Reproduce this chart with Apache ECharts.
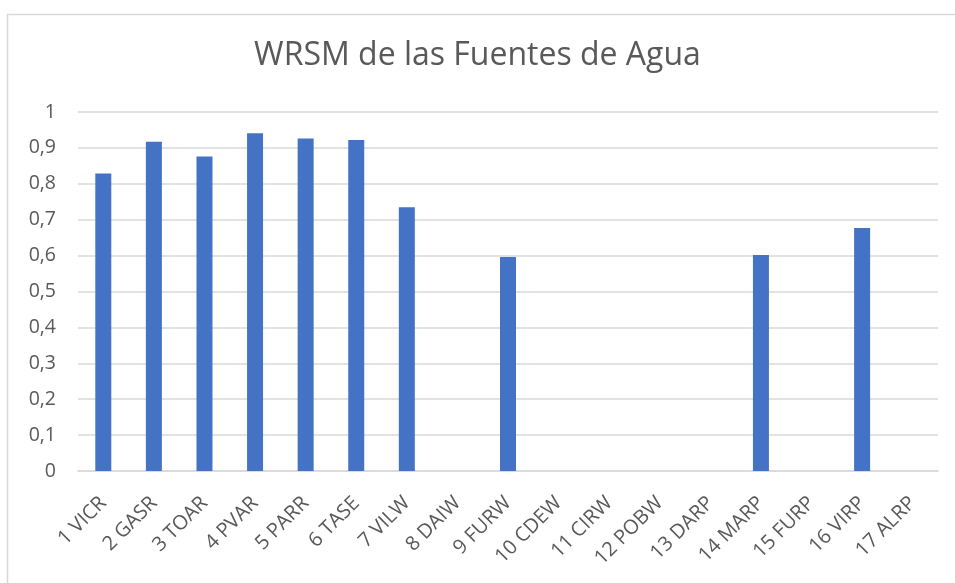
<!DOCTYPE html>
<html>
<head>
<meta charset="utf-8">
<script src="https://cdn.jsdelivr.net/npm/echarts@6/dist/echarts.min.js"></script>
<style>
  html, body { margin: 0; padding: 0; background: #ffffff; }
  #chart { width: 955px; height: 583px; }
</style>
</head>
<body>
<div id="chart"></div>
<script>
// Water source codes and their WRSM scores
const categories = [
  '1 VICR', '2 GASR', '3 TOAR', '4 PVAR', '5 PARR', '6 TASE', '7 VILW', '8 DAIW',
  '9 FURW', '10 CDEW', '11 CIRW', '12 POBW', '13 DARP', '14 MARP', '15 FURP',
  '16 VIRP', '17 ALRP'
];
const wrsmValues = [
  0.829, 0.917, 0.876, 0.941, 0.926, 0.922, 0.735, null,
  0.596, null, null, null, null, 0.602, null,
  0.677, null
];
const chartTitle = 'WRSM de las Fuentes de Agua';

const textColor = '#595959';
const fontFamily = '"Open Sans", "Noto Sans", sans-serif';

const chart = echarts.init(document.getElementById('chart'), null, { renderer: 'canvas' });

chart.setOption({
  backgroundColor: '#ffffff',
  animation: false,
  graphic: [{
    type: 'rect',
    shape: { x: 7.5, y: 14.5, width: 960, height: 600 },
    style: { fill: 'none', stroke: '#d9d9d9', lineWidth: 1.5 },
    silent: true,
    z: -1
  }],
  title: {
    text: chartTitle,
    left: 'center',
    top: 35,
    textStyle: {
      fontFamily: fontFamily,
      fontWeight: 'normal',
      fontSize: 32,
      color: textColor
    }
  },
  grid: {
    left: 78,
    right: 17,
    top: 112,
    bottom: 112,
    containLabel: false
  },
  xAxis: {
    type: 'category',
    data: categories,
    axisLine: { show: true, lineStyle: { color: '#d9d9d9', width: 1.5 } },
    axisTick: { show: false },
    axisLabel: {
      rotate: 45,
      interval: 0,
      margin: 29,
      fontFamily: fontFamily,
      fontSize: 20,
      color: textColor
    }
  },
  yAxis: {
    type: 'value',
    min: 0,
    max: 1,
    interval: 0.1,
    axisLine: { show: false },
    axisTick: { show: false },
    splitLine: { lineStyle: { color: '#d9d9d9', width: 1.5 } },
    axisLabel: {
      margin: 22,
      fontFamily: fontFamily,
      fontSize: 19.5,
      color: textColor,
      formatter: function (v) {
        return String(Math.round(v * 10) / 10).replace('.', ',');
      }
    }
  },
  series: [{
    type: 'bar',
    data: wrsmValues,
    barWidth: 16,
    itemStyle: { color: '#4472c4' }
  }]
});
</script>
</body>
</html>
